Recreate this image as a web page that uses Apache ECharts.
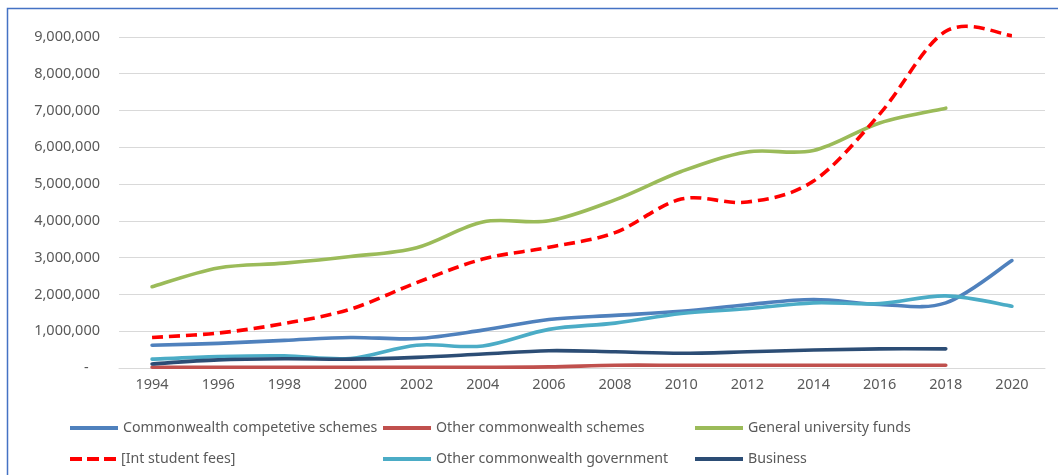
<!DOCTYPE html>
<html>
<head>
<meta charset="utf-8">
<script src="https://cdn.jsdelivr.net/npm/echarts@6/dist/echarts.min.js"></script>
<style>
  html, body { margin: 0; padding: 0; background: #ffffff; }
  #chart { width: 1058px; height: 475px; }
</style>
</head>
<body>
<div id="chart"></div>
<script>
// Years on the category axis
const years = ['1994','1996','1998','2000','2002','2004','2006','2008','2010','2012','2014','2016','2018','2020'];

// Funding by source (dollars)
const cwCompetitive = [620000, 670000, 750000, 830000, 800000, 1030000, 1320000, 1430000, 1540000, 1720000, 1860000, 1730000, 1770000, 2920000];
const otherCwSchemes = [20000, 20000, 20000, 20000, 20000, 20000, 30000, 75000, 75000, 75000, 75000, 75000, 75000, null];
const generalUniFunds = [2210000, 2720000, 2850000, 3030000, 3270000, 3970000, 4000000, 4570000, 5340000, 5870000, 5910000, 6660000, 7060000, null];
const intStudentFees = [830000, 950000, 1210000, 1600000, 2320000, 2960000, 3280000, 3680000, 4590000, 4510000, 5080000, 6900000, 9150000, 9030000];
const otherCwGovt = [240000, 310000, 330000, 260000, 620000, 600000, 1050000, 1220000, 1480000, 1610000, 1770000, 1750000, 1960000, 1680000];
const business = [110000, 220000, 250000, 240000, 290000, 380000, 470000, 440000, 400000, 440000, 490000, 520000, 520000, null];

const names = [
  'Commonwealth competetive schemes',
  'Other commonwealth schemes',
  'General university funds',
  '[Int student fees]',
  'Other commonwealth government',
  'Business'
];

const FONT = 'Noto Sans';
const TEXT = '#595959';

// Legend swatches: a solid bar, and three dashes for the dashed series
const SOLID_ICON = 'rect';
const DASH_ICON = 'path://M0,0h12v4h-12z M17,0h12v4h-12z M34,0h12v4h-12z';

// Smoothed line through the points (Catmull-Rom, drawn as cubic Beziers),
// positioned with the cartesian axes via api.coord.
function smoothLine(name, values, color, dashed) {
  const data = [];
  values.forEach(function (v, i) { if (v != null) data.push([i, v]); });
  return {
    name: name,
    type: 'custom',
    coordinateSystem: 'cartesian2d',
    encode: { x: 0, y: 1 },
    data: data,
    itemStyle: { color: color },
    renderItem: function (params, api) {
      if (params.dataIndex !== 0) return { type: 'group', children: [] };
      const p = data.map(function (d) { return api.coord(d); });
      const n = p.length;
      let path = 'M' + p[0][0] + ' ' + p[0][1];
      for (let i = 0; i < n - 1; i++) {
        const p0 = p[Math.max(i - 1, 0)];
        const p1 = p[i];
        const p2 = p[i + 1];
        const p3 = p[Math.min(i + 2, n - 1)];
        const c1x = p1[0] + (p2[0] - p0[0]) / 6;
        const c1y = p1[1] + (p2[1] - p0[1]) / 6;
        const c2x = p2[0] - (p3[0] - p1[0]) / 6;
        const c2y = p2[1] - (p3[1] - p1[1]) / 6;
        path += ' C' + c1x + ' ' + c1y + ' ' + c2x + ' ' + c2y + ' ' + p2[0] + ' ' + p2[1];
      }
      return {
        type: 'path',
        shape: { pathData: path },
        style: {
          fill: 'none',
          stroke: color,
          lineWidth: 3.6,
          lineDash: dashed ? [11, 6] : null,
          lineCap: dashed ? 'butt' : 'round',
          lineJoin: 'round'
        }
      };
    }
  };
}

function legendItem(name, left, top, icon, width) {
  return {
    data: [name],
    left: left,
    top: top,
    padding: 0,
    icon: icon,
    itemWidth: width,
    itemHeight: 4,
    itemGap: 0,
    selectedMode: false,
    textStyle: { color: TEXT, fontFamily: FONT, fontSize: 14.2 }
  };
}

const chart = echarts.init(document.getElementById('chart'), null, { renderer: 'canvas' });

chart.setOption({
  animation: false,
  backgroundColor: '#ffffff',
  graphic: [{
    type: 'rect',
    z: -10,
    shape: { x: 7.5, y: 8.5, width: 1200, height: 600 },
    style: { fill: 'none', stroke: '#4472C4', lineWidth: 1.5 }
  }],
  grid: { left: 119, right: 13, top: -2, bottom: 107 },
  legend: [
    legendItem(names[0], 70, 421, SOLID_ICON, 48),
    legendItem(names[1], 383, 421, SOLID_ICON, 48),
    legendItem(names[2], 695, 421, SOLID_ICON, 48),
    legendItem(names[3], 70, 452, DASH_ICON, 46),
    legendItem(names[4], 383, 452, SOLID_ICON, 48),
    legendItem(names[5], 695, 452, SOLID_ICON, 48)
  ],
  xAxis: {
    type: 'category',
    data: years,
    boundaryGap: true,
    axisLine: { show: true, lineStyle: { color: '#D9D9D9', width: 1 } },
    axisTick: { show: false },
    axisLabel: { color: TEXT, fontFamily: FONT, fontSize: 14.5, margin: 9 }
  },
  yAxis: {
    type: 'value',
    min: 0,
    max: 10000000,
    interval: 1000000,
    axisLine: { show: false },
    axisTick: { show: false },
    splitLine: { showMaxLine: false, lineStyle: { color: '#D9D9D9', width: 1 } },
    axisLabel: {
      color: TEXT,
      fontFamily: FONT,
      fontSize: 14.5,
      margin: 19,
      showMaxLabel: false,
      formatter: function (v) {
        return v === 0 ? '-   ' : v.toLocaleString('en-US');
      }
    }
  },
  series: [
    smoothLine(names[0], cwCompetitive, '#4F81BD', false),
    smoothLine(names[1], otherCwSchemes, '#C0504D', false),
    smoothLine(names[2], generalUniFunds, '#9BBB59', false),
    smoothLine(names[3], intStudentFees, '#FF0000', true),
    smoothLine(names[4], otherCwGovt, '#4BACC6', false),
    smoothLine(names[5], business, '#2C4D75', false)
  ]
});
</script>
</body>
</html>
